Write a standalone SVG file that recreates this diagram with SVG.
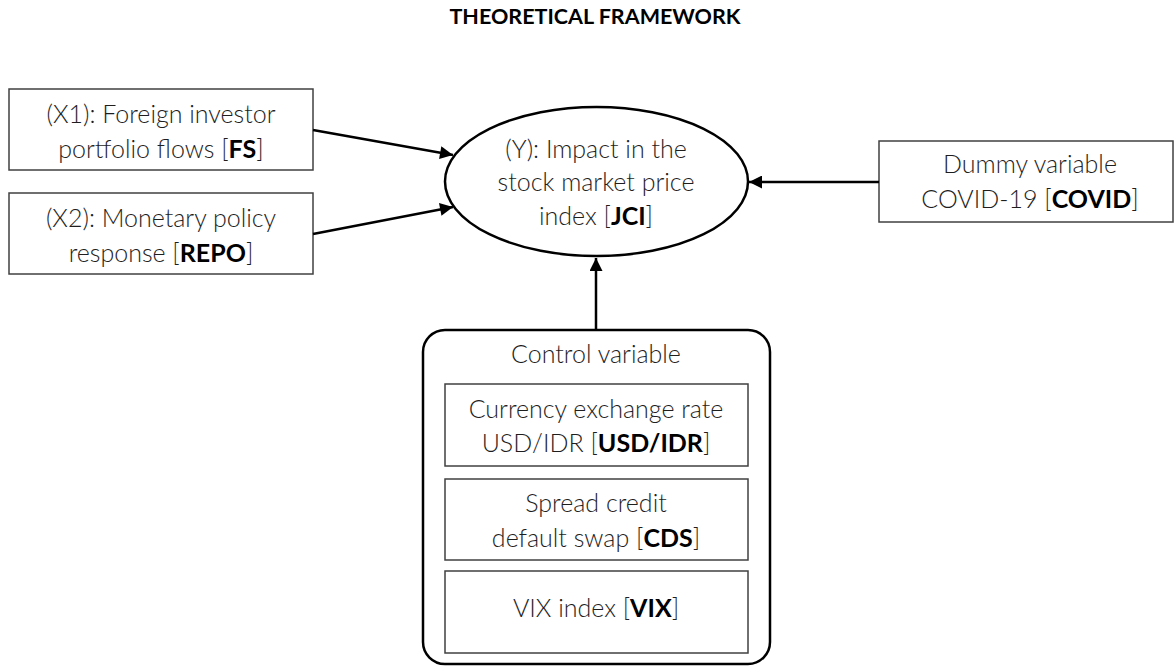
<svg xmlns="http://www.w3.org/2000/svg" width="1174" height="666" viewBox="0 0 1174 666">
<style>
text{font-family:"Lato","Liberation Sans",sans-serif;font-weight:300;font-size:25px;fill:#1e1e1e;text-anchor:middle}
.b{font-weight:700;fill:#000}
.title{font-weight:700;font-size:21.5px;fill:#000}
.box{fill:#fff;stroke:#404040;stroke-width:1.5}
.conn{stroke:#000;stroke-width:2.5;fill:none;marker-end:url(#ah)}
</style>
<defs>
<marker id="ah" viewBox="0 0 10 10" refX="10" refY="5" markerWidth="16" markerHeight="13" markerUnits="userSpaceOnUse" orient="auto">
<path d="M0,0 L10,5 L0,10 Z" fill="#000"/>
</marker>
</defs>
<rect width="1174" height="666" fill="#fff"/>
<text class="title" x="595" y="24">THEORETICAL FRAMEWORK</text>
<g id="x1">
<rect class="box" x="9" y="89" width="304" height="81"/>
<text x="161" y="123">(X1): Foreign investor</text>
<text x="161" y="158">portfolio flows [<tspan class="b">FS</tspan>]</text>
</g>
<g id="x2">
<rect class="box" x="9" y="193" width="304" height="81"/>
<text x="161" y="227">(X2): Monetary policy</text>
<text x="161" y="262">response [<tspan class="b">REPO</tspan>]</text>
</g>
<g id="y">
<ellipse cx="596.5" cy="181.5" rx="151.5" ry="74.5" fill="#fff" stroke="#000" stroke-width="2.5"/>
<text x="596" y="158">(Y): Impact in the</text>
<text x="596" y="191">stock market price</text>
<text x="596" y="225">index [<tspan class="b">JCI</tspan>]</text>
</g>
<g id="covid">
<rect class="box" x="879" y="141" width="294" height="81"/>
<text x="1030" y="173">Dummy variable</text>
<text x="1030" y="208">COVID-19 [<tspan class="b">COVID</tspan>]</text>
</g>
<g id="control">
<rect x="423" y="330" width="347" height="334" rx="22" fill="#fff" stroke="#000" stroke-width="2.5"/>
<text x="596" y="363">Control variable</text>
<g id="usd">
<rect class="box" x="445" y="384" width="303" height="82"/>
<text x="596" y="418">Currency exchange rate</text>
<text x="596" y="452">USD/IDR [<tspan class="b">USD/IDR</tspan>]</text>
</g>
<g id="cds">
<rect class="box" x="445" y="479" width="303" height="81"/>
<text x="596" y="512">Spread credit</text>
<text x="596" y="547">default swap [<tspan class="b">CDS</tspan>]</text>
</g>
<g id="vix">
<rect class="box" x="445" y="571" width="303" height="82"/>
<text x="596" y="617">VIX index [<tspan class="b">VIX</tspan>]</text>
</g>
</g>
<g id="connectors">
<line class="conn" x1="313" y1="130" x2="453" y2="155"/>
<line class="conn" x1="313" y1="234" x2="453" y2="207"/>
<line class="conn" x1="879" y1="182" x2="749" y2="182"/>
<line class="conn" x1="596" y1="330" x2="596" y2="258"/>
</g>
</svg>
